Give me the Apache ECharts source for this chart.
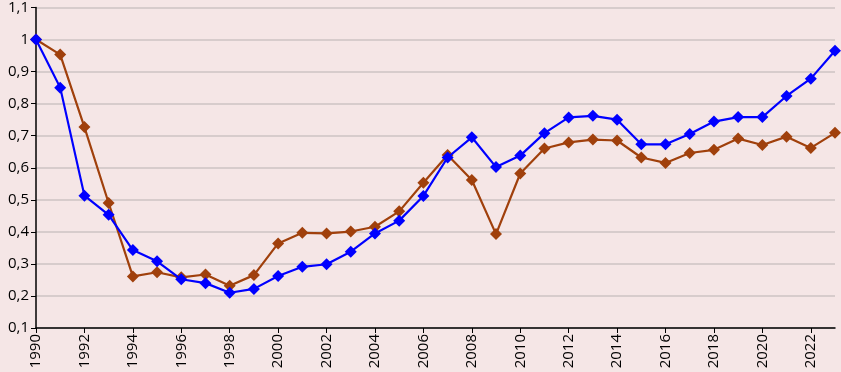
<!DOCTYPE html>
<html><head><meta charset="utf-8">
<script src="https://cdn.jsdelivr.net/npm/echarts@6/dist/echarts.min.js"></script>
<style>html,body{margin:0;padding:0;background:#f5e6e6;}#c{width:841px;height:372px;}</style>
</head><body><div id="c"></div>
<script>
const years = [];
for (let y = 1990; y <= 2023; y++) years.push(String(y));
const blueSeries = [1.0,0.85,0.513,0.453,0.343,0.308,0.252,0.24,0.21,0.222,0.262,0.291,0.299,0.338,0.395,0.435,0.512,0.632,0.695,0.602,0.638,0.708,0.757,0.762,0.75,0.673,0.673,0.705,0.744,0.758,0.758,0.824,0.878,0.965];
const brownSeries = [1.0,0.953,0.727,0.49,0.261,0.274,0.258,0.267,0.232,0.265,0.364,0.397,0.395,0.401,0.416,0.464,0.553,0.64,0.562,0.393,0.582,0.66,0.679,0.688,0.685,0.632,0.615,0.646,0.656,0.691,0.671,0.697,0.662,0.709];
const yMin = 0.1, yMax = 1.1, yStep = 0.1;

const chart = echarts.init(document.getElementById('c'));
const font = '"Open Sans", "Liberation Sans", Arial, sans-serif';
chart.setOption({
  backgroundColor: '#f5e6e6',
  animation: false,
  grid: {left: 36, right: 6, top: 5, bottom: 44, containLabel: false},
  xAxis: {
    type: 'category', data: years, boundaryGap: false,
    axisLine: {lineStyle: {color: '#000', width: 1.5}},
    axisTick: {show: true, interval: (i) => i % 2 === 0, length: 5, lineStyle: {color: '#000'}},
    axisLabel: {interval: (i) => i % 2 === 0, rotate: 90, color: '#000', fontSize: 15, fontFamily: font, margin: 6},
    splitLine: {show: false}
  },
  yAxis: {
    type: 'value', min: yMin, max: yMax, interval: yStep,
    axisLine: {show: true, lineStyle: {color: '#000', width: 1.5}},
    axisTick: {show: true, length: 5, lineStyle: {color: '#000'}},
    axisLabel: {color: '#000', fontSize: 15, fontFamily: font, margin: 7,
      formatter: (v) => String(Math.round(v*10)/10).replace('.', ',')},
    splitLine: {show: true, lineStyle: {color: '#cdc3c3', width: 1.5}}
  },
  series: [
    {type: 'line', data: brownSeries, symbol: 'diamond', symbolSize: 12, z: 2,
     lineStyle: {color: '#a0400c', width: 2.2}, itemStyle: {color: '#a0400c'}},
    {type: 'line', data: blueSeries, symbol: 'diamond', symbolSize: 12, z: 3,
     lineStyle: {color: '#0000ff', width: 2.2}, itemStyle: {color: '#0000ff'}}
  ]
});
</script></body></html>
